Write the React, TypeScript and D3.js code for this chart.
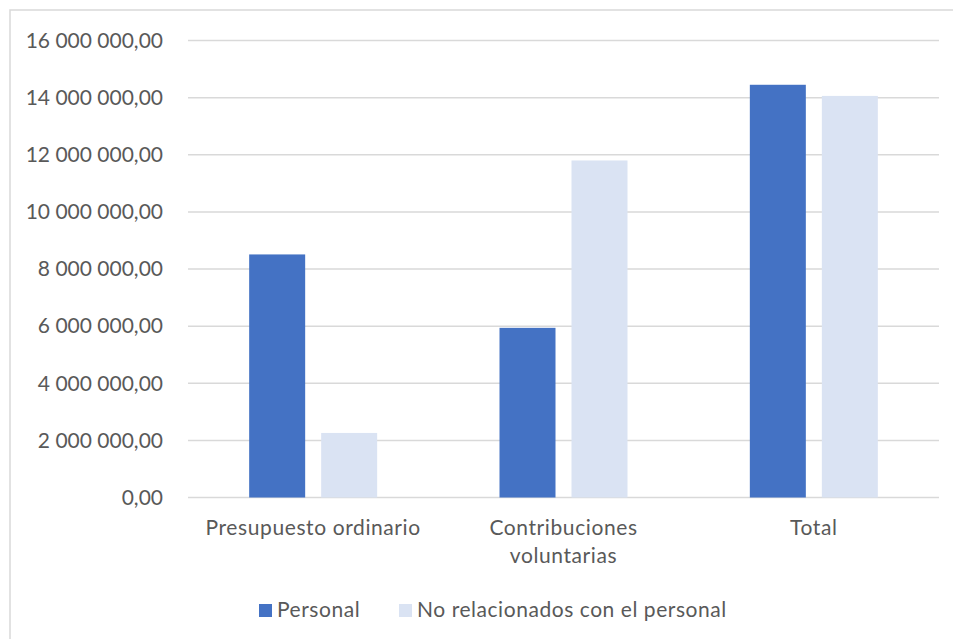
import React, { useEffect, useRef } from 'react'
import * as d3 from 'd3'

const categories = ['Presupuesto ordinario', 'Contribuciones voluntarias', 'Total']
const categoryLines = [['Presupuesto ordinario'], ['Contribuciones', 'voluntarias'], ['Total']]
const seriesNames = ['Personal', 'No relacionados con el personal']
const personal = [8510000, 5940000, 14450000]
const noRelacionados = [2260000, 11800000, 14060000]
const yTicks = [0, 2000000, 4000000, 6000000, 8000000, 10000000, 12000000, 14000000, 16000000]
const colors = ['#4472C4', '#DAE3F3']

const fmt = (v: number) => {
    const s = d3.format(',.2f')(v)
    return s.replace(/,/g, ' ').replace('.', ',')
}

export default function App() {
    const ref = useRef<SVGSVGElement>(null)

    useEffect(() => {
        const width = 953, height = 639
        const margin = { top: 40.5, right: 14, bottom: 141.5, left: 188 }
        const svg = d3.select(ref.current)
        svg.selectAll('*').remove()

        // chart frame
        svg.append('rect')
            .attr('x', 10).attr('y', 10)
            .attr('width', width).attr('height', height)
            .attr('fill', '#fff')
            .attr('stroke', '#d9d9d9')
            .attr('stroke-width', 1.5)

        const x0 = d3.scaleBand()
            .domain(categories)
            .range([margin.left, width - margin.right])
        const groupWidth = 128
        const x1 = d3.scaleBand()
            .domain(seriesNames)
            .range([0, groupWidth])
            .paddingInner(2 - groupWidth / 72)
        const y = d3.scaleLinear()
            .domain([0, 16000000])
            .range([height - margin.bottom, margin.top])

        const font = 'Lato, "Open Sans", sans-serif'
        const textColor = '#595959'

        // gridlines
        svg.append('g')
            .selectAll('line')
            .data(yTicks)
            .enter()
            .append('line')
            .attr('x1', margin.left)
            .attr('x2', width - margin.right)
            .attr('y1', d => y(d))
            .attr('y2', d => y(d))
            .attr('stroke', '#d9d9d9')
            .attr('stroke-width', 1.5)

        // y labels
        svg.append('g')
            .selectAll('text')
            .data(yTicks)
            .enter()
            .append('text')
            .attr('x', 163)
            .attr('y', d => y(d))
            .attr('dy', '0.35em')
            .attr('text-anchor', 'end')
            .attr('font-family', font)
            .attr('font-size', 21)
            .attr('fill', textColor)
            .text(d => fmt(d))

        const series = [personal, noRelacionados]
        series.forEach((vals, si) => {
            svg.append('g')
                .selectAll('rect')
                .data(categories)
                .enter()
                .append('rect')
                .attr('x', d => x0(d)! + (x0.bandwidth() - groupWidth) / 2 + x1(seriesNames[si])!)
                .attr('y', (d, i) => y(vals[i]))
                .attr('width', x1.bandwidth())
                .attr('height', (d, i) => y(0) - y(vals[i]))
                .attr('fill', colors[si])
        })

        // category labels
        const catG = svg.append('g')
        categories.forEach((c, i) => {
            const cx = x0(c)! + x0.bandwidth() / 2
            categoryLines[i].forEach((line, li) => {
                catG.append('text')
                    .attr('x', cx)
                    .attr('y', 535 + li * 28)
                    .attr('text-anchor', 'middle')
                    .attr('font-family', font)
                    .attr('font-size', 21)
                    .attr('letter-spacing', 0.6)
                    .attr('fill', textColor)
                    .text(line)
            })
        })

        // legend
        const legendX = [259, 399]
        seriesNames.forEach((name, i) => {
            svg.append('rect')
                .attr('x', legendX[i]).attr('y', 604)
                .attr('width', 13).attr('height', 13)
                .attr('fill', colors[i])
            svg.append('text')
                .attr('x', legendX[i] + 18)
                .attr('y', 617)
                .attr('font-family', font)
                .attr('font-size', 21)
                .attr('letter-spacing', 0.55)
                .attr('fill', textColor)
                .text(name)
        })
    }, [])

    return (
        <svg ref={ref} width={953} height={639}
            style={{ position: 'absolute', left: 0, top: 0, display: 'block', background: '#fff' }} />
    )
}
